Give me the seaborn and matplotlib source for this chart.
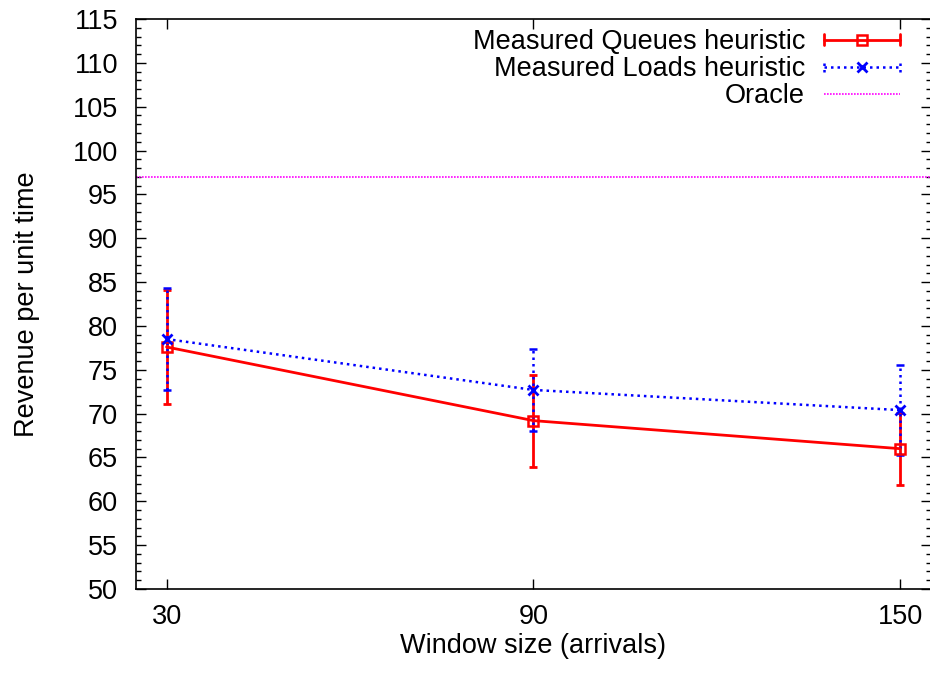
import numpy as np
import pandas as pd
import matplotlib
matplotlib.use("Agg")
import matplotlib.pyplot as plt
from matplotlib.lines import Line2D
from matplotlib.legend_handler import HandlerBase
import seaborn as sns

# ---- data ----
window = [30, 90, 150]
queues_mean = [77.6, 69.2, 66.0]
queues_err = [6.5, 5.25, 4.1]
loads_mean = [78.5, 72.7, 70.4]
loads_err = [5.8, 4.65, 5.1]
oracle_value = 97.0
series_labels = ["Measured Queues heuristic", "Measured Loads heuristic", "Oracle"]
y_ticks = list(range(50, 116, 5))

sns.set_style("ticks")
plt.rcParams["font.family"] = ["Liberation Sans", "DejaVu Sans"]
FS = 19.5
plt.rcParams["font.size"] = FS
plt.rcParams["text.color"] = "black"
plt.rcParams["axes.labelcolor"] = "black"
plt.rcParams["xtick.color"] = "black"
plt.rcParams["ytick.color"] = "black"

RED = "#ff0000"
BLUE = "#0000ff"
MAG = "#ff00ff"

fig = plt.figure(figsize=(9.3, 6.73), dpi=100)
ax = fig.add_axes([0.14624, 0.12481, 1.001 - 0.14624, 0.97177 - 0.12481])

dfq = pd.DataFrame({"window": window, "revenue": queues_mean})
dfl = pd.DataFrame({"window": window, "revenue": loads_mean})

blue_ls = (0, (1, 1.6))

# error bars
eq = ax.errorbar(window, queues_mean, yerr=queues_err, fmt="none", ecolor=RED,
                 elinewidth=2.0, capsize=3, capthick=2.0, zorder=3)
el = ax.errorbar(window, loads_mean, yerr=loads_err, fmt="none", ecolor=BLUE,
                 elinewidth=1.8, capsize=3, capthick=1.8, zorder=4)
for lc in el[2]:
    lc.set_linestyle(blue_ls)

sns.lineplot(data=dfq, x="window", y="revenue", ax=ax, color=RED, linewidth=2.0,
             marker="s", markersize=7, markerfacecolor="none", markeredgecolor=RED,
             markeredgewidth=1.8, errorbar=None, zorder=5)
sns.lineplot(data=dfl, x="window", y="revenue", ax=ax, color=BLUE, linewidth=1.8,
             linestyle=blue_ls, marker="x", markersize=7, markeredgecolor=BLUE,
             markeredgewidth=2.0, errorbar=None, zorder=6)
ax.axhline(oracle_value, color=MAG, linewidth=1.2, linestyle=(0, (1, 0.8)), zorder=2)

ax.set_xlim(25, 155)
ax.set_ylim(50, 115)
ax.set_xticks(window)
ax.set_xticklabels([str(w) for w in window])
ax.set_yticks(y_ticks)
ax.set_yticks(list(range(50, 116, 1)), minor=True)
ax.tick_params(axis="both", which="both", direction="in", top=True, right=True,
               colors="black", labelsize=FS)
ax.tick_params(axis="both", which="major", length=7, width=1.0)
ax.tick_params(axis="y", which="minor", length=3.6, width=1.0)
ax.tick_params(axis="x", which="major", pad=11)
ax.tick_params(axis="y", which="major", pad=13)
for s in ax.spines.values():
    s.set_color("black")
    s.set_linewidth(1.2)

ax.set_xlabel("Window size (arrivals)", fontsize=FS)
ax.set_ylabel("Revenue per unit time", fontsize=FS)
ax.xaxis.set_label_coords(0.5, -0.078)
ax.yaxis.set_label_coords(-0.121, 0.5)


class ErrHandler(HandlerBase):
    def __init__(self, color, ls, lw, marker, ms, mew, mfc, caps=True):
        super().__init__()
        self.color, self.ls, self.lw = color, ls, lw
        self.marker, self.ms, self.mew, self.mfc = marker, ms, mew, mfc
        self.caps = caps

    def create_artists(self, legend, orig_handle, xdescent, ydescent, width,
                       height, fontsize, trans):
        yc = height / 2 - ydescent
        x0, x1 = -xdescent, -xdescent + width
        arts = [Line2D([x0, x1], [yc, yc], color=self.color, linestyle=self.ls,
                       linewidth=self.lw, transform=trans)]
        if self.caps:
            h = 4
            for xx in (x0, x1):
                arts.append(Line2D([xx, xx], [yc - h, yc + h], color=self.color,
                                   linestyle=self.ls, linewidth=self.lw, transform=trans))
        if self.marker:
            arts.append(Line2D([(x0 + x1) / 2], [yc], marker=self.marker, markersize=self.ms,
                               markeredgewidth=self.mew, markeredgecolor=self.color,
                               markerfacecolor=self.mfc, linestyle="none", transform=trans))
        return arts


h1 = Line2D([], [], color=RED)
h2 = Line2D([], [], color=BLUE)
h3 = Line2D([], [], color=MAG)
leg = ax.legend([h1, h2, h3], series_labels, loc="upper right",
                bbox_to_anchor=(0.9615, 0.982), frameon=False, markerfirst=False,
                handlelength=2.8, handletextpad=0.72, labelspacing=0.04,
                borderpad=0, borderaxespad=0, fontsize=FS,
                handler_map={
                    h1: ErrHandler(RED, "-", 2.0, "s", 7, 1.8, "none"),
                    h2: ErrHandler(BLUE, blue_ls, 1.8, "x", 7, 2.0, BLUE),
                    h3: ErrHandler(MAG, (0, (1, 0.8)), 1.2, None, 0, 0, "none", caps=False),
                })

fig.savefig("out.png", dpi=100)
